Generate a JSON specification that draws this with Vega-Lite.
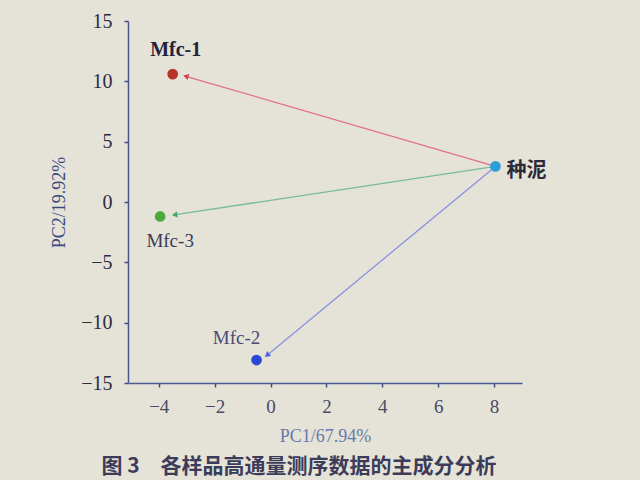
{
  "$schema": "https://vega.github.io/schema/vega-lite/v6.json",
  "autosize": {"type": "none"},
  "width": 394,
  "height": 362,
  "padding": {"left": 128, "top": 21, "right": 118, "bottom": 97},
  "background": "#e5e3d8",
  "config": {
    "view": {"stroke": null},
    "font": "Liberation Serif",
    "axis": {"ticks": true}
  },
  "title": {
    "text": "图 3　各样品高通量测序数据的主成分分析",
    "orient": "bottom",
    "anchor": "middle",
    "font": "Noto Sans CJK SC",
    "fontSize": 21,
    "fontWeight": "bold",
    "color": "#3c3c5a",
    "offset": 11,
    "dx": -26
  },
  "resolve": {"scale": {"color": "independent"}},
  "datasets": {
    "pts": [
      {"name": "Mfc-1", "pc1": -3.5, "pc2": 10.6},
      {"name": "Mfc-3", "pc1": -3.95, "pc2": -1.2},
      {"name": "Mfc-2", "pc1": -0.5, "pc2": -13.1},
      {"name": "种泥", "pc1": 8.05, "pc2": 2.95}
    ],
    "arrows": [
      {"to": "Mfc-1", "sx": 8.05, "sy": 2.95, "tx": -3.0, "ty": 10.4},
      {"to": "Mfc-3", "sx": 8.05, "sy": 2.95, "tx": -3.4, "ty": -1.05},
      {"to": "Mfc-2", "sx": 8.05, "sy": 2.95, "tx": -0.1, "ty": -12.65}
    ]
  },
  "layer": [
    {
      "data": {"name": "arrows"},
      "mark": {"type": "rule", "strokeWidth": 1.3, "opacity": 0.9},
      "encoding": {
        "x": {
          "field": "sx", "type": "quantitative",
          "scale": {"domain": [-5.1, 9], "nice": false, "zero": false},
          "axis": {
            "values": [-4, -3, -2, -1, 0, 1, 2, 3, 4, 5, 6, 7, 8],
            "labelExpr": "datum.value % 2 === 0 ? (datum.value < 0 ? '\u2212' + abs(datum.value) : datum.label) : ''",
            "title": "PC1/67.94%",
            "titleFont": "Liberation Serif",
            "titleFontSize": 18,
            "titleFontWeight": "normal",
            "titleColor": "#6a78a8",
            "titlePadding": 11,
            "labelFont": "Liberation Serif",
            "labelFontSize": 19,
            "labelColor": "#4a4a66",
            "labelPadding": 10,
            "domainColor": "#4c5a92",
            "domainWidth": 1.5,
            "ticks": true,
            "tickColor": "#3c4a82",
            "tickWidth": 1.5,
            "tickSize": 4,
            "grid": false
          }
        },
        "y": {
          "field": "sy", "type": "quantitative",
          "scale": {"domain": [-15, 15], "nice": false, "zero": false},
          "axis": {
            "values": [-15, -12.5, -10, -7.5, -5, -2.5, 0, 2.5, 5, 7.5, 10, 12.5, 15],
            "labelExpr": "datum.value % 5 === 0 ? (datum.value < 0 ? '\u2212' + abs(datum.value) : datum.label) : ''",
            "title": "PC2/19.92%",
            "titleFont": "Liberation Serif",
            "titleFontSize": 18,
            "titleFontWeight": "normal",
            "titleColor": "#3a4a80",
            "titlePadding": 12,
            "labelFont": "Liberation Serif",
            "labelFontSize": 20,
            "labelColor": "#2c2c40",
            "labelPadding": 12,
            "domainColor": "#4c5a92",
            "domainWidth": 1.5,
            "ticks": true,
            "tickColor": "#3c4a82",
            "tickWidth": 1.5,
            "tickSize": 4,
            "grid": false
          }
        },
        "x2": {"field": "tx"},
        "y2": {"field": "ty"},
        "color": {
          "field": "to", "type": "nominal",
          "scale": {"domain": ["Mfc-1", "Mfc-3", "Mfc-2"], "range": ["#e0627e", "#6cb59a", "#8086e4"]},
          "legend": null
        }
      }
    },
    {
      "data": {"name": "arrows"},
      "transform": [
        {"calculate": "atan2((datum.tx - datum.sx) * 28, (datum.ty - datum.sy) * 12.1) * 180 / PI", "as": "ang"}
      ],
      "mark": {"type": "point", "shape": "triangle", "filled": true, "size": 40, "opacity": 1},
      "encoding": {
        "x": {"field": "tx", "type": "quantitative"},
        "y": {"field": "ty", "type": "quantitative"},
        "angle": {"field": "ang", "type": "quantitative", "scale": null},
        "color": {
          "field": "to", "type": "nominal",
          "scale": {"domain": ["Mfc-1", "Mfc-3", "Mfc-2"], "range": ["#d8405a", "#4aa86a", "#4a62e0"]},
          "legend": null
        }
      }
    },
    {
      "data": {"name": "pts"},
      "mark": {"type": "point", "filled": true, "size": 115, "opacity": 1},
      "encoding": {
        "x": {"field": "pc1", "type": "quantitative"},
        "y": {"field": "pc2", "type": "quantitative"},
        "color": {
          "field": "name", "type": "nominal",
          "scale": {"domain": ["Mfc-1", "Mfc-3", "Mfc-2", "种泥"], "range": ["#b83428", "#4caa3c", "#2a48d6", "#2c9ddc"]},
          "legend": null
        }
      }
    },
    {
      "data": {"name": "pts"},
      "transform": [{"filter": "datum.name === 'Mfc-1'"}],
      "mark": {"type": "text", "dx": 3, "dy": -24, "fontSize": 20, "fontWeight": "bold", "color": "#22223a", "font": "Liberation Serif"},
      "encoding": {
        "x": {"field": "pc1", "type": "quantitative"},
        "y": {"field": "pc2", "type": "quantitative"},
        "text": {"field": "name"}
      }
    },
    {
      "data": {"name": "pts"},
      "transform": [{"filter": "datum.name === 'Mfc-3'"}],
      "mark": {"type": "text", "dx": 10, "dy": 25, "fontSize": 19, "color": "#3a3a5a", "font": "Liberation Serif"},
      "encoding": {
        "x": {"field": "pc1", "type": "quantitative"},
        "y": {"field": "pc2", "type": "quantitative"},
        "text": {"field": "name"}
      }
    },
    {
      "data": {"name": "pts"},
      "transform": [{"filter": "datum.name === 'Mfc-2'"}],
      "mark": {"type": "text", "dx": -20, "dy": -22, "fontSize": 19, "color": "#4a4a72", "font": "Liberation Serif"},
      "encoding": {
        "x": {"field": "pc1", "type": "quantitative"},
        "y": {"field": "pc2", "type": "quantitative"},
        "text": {"field": "name"}
      }
    },
    {
      "data": {"name": "pts"},
      "transform": [{"filter": "datum.name === '种泥'"}],
      "mark": {"type": "text", "dx": 11, "dy": 5, "align": "left", "fontSize": 20, "fontWeight": "bold", "color": "#2a2a3a", "font": "Noto Sans CJK SC"},
      "encoding": {
        "x": {"field": "pc1", "type": "quantitative"},
        "y": {"field": "pc2", "type": "quantitative"},
        "text": {"field": "name"}
      }
    }
  ]
}
